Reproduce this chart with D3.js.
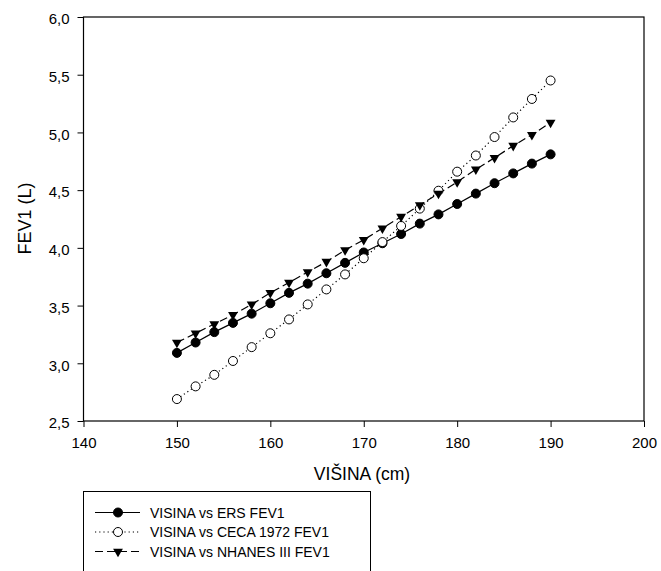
<!DOCTYPE html>
<html>
<head>
<meta charset="utf-8">
<script src="https://cdn.jsdelivr.net/npm/d3@7"></script>
<style>
  body { margin: 0; background: #fff; }
  svg { font-family: "Liberation Sans", Arial, sans-serif; }
</style>
</head>
<body>
<svg id="chart"></svg>
<script>
  const visina = [150, 152, 154, 156, 158, 160, 162, 164, 166, 168, 170, 172, 174, 176, 178, 180, 182, 184, 186, 188, 190];
  const ers = [3.09, 3.18, 3.27, 3.35, 3.43, 3.52, 3.61, 3.69, 3.78, 3.87, 3.96, 4.04, 4.12, 4.21, 4.29, 4.38, 4.47, 4.56, 4.645, 4.73, 4.81];
  const ceca = [2.69, 2.80, 2.90, 3.02, 3.14, 3.26, 3.38, 3.51, 3.64, 3.77, 3.91, 4.05, 4.19, 4.34, 4.495, 4.66, 4.80, 4.96, 5.13, 5.29, 5.45];
  const nhanes = [3.18, 3.26, 3.34, 3.42, 3.51, 3.61, 3.70, 3.79, 3.88, 3.98, 4.07, 4.17, 4.27, 4.37, 4.47, 4.57, 4.68, 4.78, 4.885, 4.98, 5.085];
  const xTicks = [140, 150, 160, 170, 180, 190, 200];
  const yTicks = [2.5, 3.0, 3.5, 4.0, 4.5, 5.0, 5.5, 6.0];

  const series = [
    { name: "VISINA vs ERS FEV1", values: ers, dash: null, marker: "filled" },
    { name: "VISINA vs CECA 1972 FEV1", values: ceca, dash: "1.2,3", marker: "open" },
    { name: "VISINA vs NHANES III FEV1", values: nhanes, dash: "8,4", marker: "triangle" }
  ];

  const svgWidth = 661, svgHeight = 571;

  const svg = d3.select("#chart")
    .attr("width", svgWidth)
    .attr("height", svgHeight);

  const x = d3.scaleLinear().domain([140, 200]).range([83.5, 644]);
  const y = d3.scaleLinear().domain([2.5, 6.0]).range([421, 17]);

  const fmt = d => d3.format(".1f")(d).replace(".", ",");

  // frame
  svg.append("rect")
    .attr("x", x(140)).attr("y", y(6))
    .attr("width", x(200) - x(140)).attr("height", y(2.5) - y(6))
    .attr("fill", "none").attr("stroke", "#000").attr("stroke-width", 1.2);

  const xAxis = svg.append("g")
    .attr("transform", `translate(0,${y(2.5)})`)
    .call(d3.axisBottom(x).tickValues(xTicks).tickSize(6).tickPadding(10).tickFormat(d3.format("d")));
  xAxis.select(".domain").remove();
  xAxis.selectAll("text").style("font-size", "15px").attr("fill", "#000");
  xAxis.selectAll("line").attr("stroke", "#000");

  const yAxis = svg.append("g")
    .attr("transform", `translate(${x(140)},0)`)
    .call(d3.axisLeft(y).tickValues(yTicks).tickSize(6).tickPadding(8).tickFormat(fmt));
  yAxis.select(".domain").remove();
  yAxis.selectAll("text").style("font-size", "15px").attr("fill", "#000").attr("dy", "0.45em");
  yAxis.selectAll("line").attr("stroke", "#000");

  svg.append("text")
    .attr("x", 362).attr("y", 479.5)
    .attr("text-anchor", "middle")
    .style("font-size", "17.5px")
    .text("VIŠINA (cm)");

  svg.append("text")
    .attr("transform", `translate(30.5,218.5) rotate(-90)`)
    .attr("text-anchor", "middle")
    .style("font-size", "18px")
    .text("FEV1 (L)");

  const line = d3.line()
    .x((d, i) => x(visina[i]))
    .y(d => y(d));

  const tri = d3.symbol().type(d3.symbolTriangle).size(42);

  function drawMarker(g, type, cx, cy) {
    if (type === "triangle") {
      g.append("path")
        .attr("d", tri())
        .attr("transform", `translate(${cx},${cy}) rotate(180)`)
        .attr("fill", "#000");
    } else {
      g.append("circle")
        .attr("cx", cx).attr("cy", cy).attr("r", 4.5)
        .attr("fill", type === "filled" ? "#000" : "#fff")
        .attr("stroke", "#000").attr("stroke-width", 1);
    }
  }

  series.forEach(s => {
    svg.append("path")
      .datum(s.values)
      .attr("d", line)
      .attr("fill", "none")
      .attr("stroke", "#000")
      .attr("stroke-width", 1.2)
      .attr("stroke-dasharray", s.dash);
  });

  series.forEach(s => {
    const g = svg.append("g");
    s.values.forEach((v, i) => drawMarker(g, s.marker, x(visina[i]), y(v)));
  });

  // Legend
  const legend = svg.append("g");
  legend.append("rect")
    .attr("x", 83.5).attr("y", 491.5)
    .attr("width", 287).attr("height", 100)
    .attr("fill", "#fff").attr("stroke", "#000").attr("stroke-width", 1);

  series.forEach((s, i) => {
    const ly = 512.5 + i * 19.5;
    legend.append("line")
      .attr("x1", 95).attr("x2", 140)
      .attr("y1", ly).attr("y2", ly)
      .attr("stroke", "#000").attr("stroke-width", 1.2)
      .attr("stroke-dasharray", s.dash);
    drawMarker(legend, s.marker, 118, ly);
    legend.append("text")
      .attr("x", 150).attr("y", ly)
      .attr("dy", "0.36em")
      .style("font-size", "14px")
      .text(s.name);
  });
</script>
</body>
</html>
